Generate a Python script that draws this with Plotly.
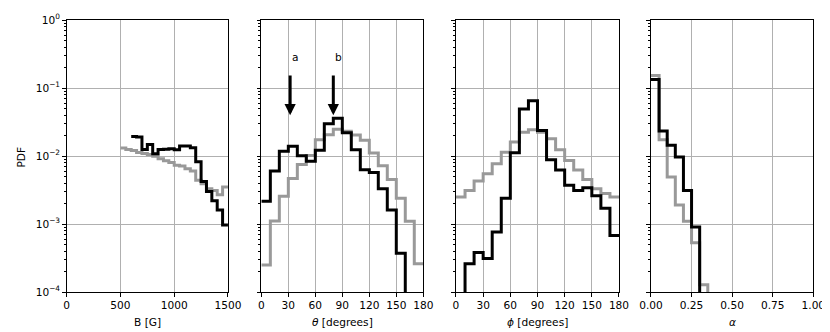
import plotly.graph_objects as go

# --------------------------------------------------
# DATOS
# --------------------------------------------------
b_edges_gray = list(range(500, 1501, 50))
b_edges_black = list(range(600, 1501, 50))
b_black = [0.0194, 0.0190, 0.0125, 0.0147, 0.0108, 0.0125, 0.0126, 0.0128, 0.0124,
           0.0140, 0.0140, 0.0132, 0.0082, 0.0042, 0.0030, 0.0022, 0.0016, 0.00097]
b_gray = [0.0131, 0.0125, 0.0120, 0.0113, 0.0109, 0.0105, 0.0099, 0.0091, 0.0085, 0.0080,
          0.0073, 0.0071, 0.0065, 0.0060, 0.0044, 0.0039, 0.0033, 0.0031, 0.0027, 0.0035]

ang_edges = list(range(0, 181, 10))
theta_black = [0.00216, 0.0060, 0.0117, 0.0139, 0.0101, 0.0084, 0.0121, 0.0299, 0.0358,
               0.0220, 0.0124, 0.0063, 0.0057, 0.0033, 0.0016, 0.00037, 1e-5, 1e-5]
theta_gray = [0.00025, 0.00111, 0.00255, 0.00465, 0.0075, 0.0102, 0.0174, 0.0206, 0.0247,
              0.0231, 0.0204, 0.0170, 0.0111, 0.0072, 0.0045, 0.0024, 0.0011, 0.00026]

phi_black = [1e-5, 0.00026, 0.00038, 0.00031, 0.00076, 0.0024, 0.0112, 0.049, 0.065,
             0.0238, 0.0088, 0.0062, 0.0037, 0.0031, 0.0034, 0.0026, 0.0017, 0.00068]
phi_gray = [0.0025, 0.0031, 0.0043, 0.0055, 0.0077, 0.0114, 0.0160, 0.0224, 0.0243,
            0.0224, 0.0180, 0.0124, 0.0086, 0.0062, 0.0045, 0.0033, 0.0028, 0.0025]

alpha_edges = [0.0, 0.05, 0.10, 0.15, 0.20, 0.25, 0.30, 0.35, 0.40]
alpha_black = [0.133, 0.0233, 0.0144, 0.0097, 0.0031, 0.0009, 1e-5, 1e-5]
alpha_gray = [0.153, 0.0174, 0.0049, 0.0019, 0.0011, 0.00053, 0.000128, 1e-5]

x_titles = ["B [G]", "<i>θ</i> [degrees]", "<i>ϕ</i> [degrees]", "<i>α</i>"]
x_ranges = [[0, 1500], [0, 180], [0, 180], [0, 1]]
x_ticks = [[0, 500, 1000, 1500],
           [0, 30, 60, 90, 120, 150, 180],
           [0, 30, 60, 90, 120, 150, 180],
           [0, 0.25, 0.5, 0.75, 1.0]]
x_ticktext = [["0", "500", "1000", "1500"],
              ["0", "30", "60", "90", "120", "150", "180"],
              ["0", "30", "60", "90", "120", "150", "180"],
              ["0.00", "0.25", "0.50", "0.75", "1.00"]]
y_ticks = [1e-4, 1e-3, 1e-2, 1e-1, 1]
y_ticktext = ["10<sup>−4</sup>", "10<sup>−3</sup>", "10<sup>−2</sup>", "10<sup>−1</sup>", "10<sup>0</sup>"]

BLACK = "#000000"
GRAY = "#999999"
FONT = "DejaVu Sans"

# la página tiene 8 px de margen: la figura es 822x324
W, H = 822, 324
domains = [[0.0714, 0.2676], [0.3082, 0.5052], [0.5450, 0.7433], [0.7822, 0.9797]]
minor_vals = [m * 10.0 ** e for e in range(-4, 0) for m in range(2, 10)]


def step(edges, vals):
    return edges, vals + [vals[-1]]


fig = go.Figure()

series = [
    (1, b_edges_gray, b_gray, GRAY),
    (1, b_edges_black, b_black, BLACK),
    (2, ang_edges, theta_gray, GRAY),
    (2, ang_edges, theta_black, BLACK),
    (3, ang_edges, phi_gray, GRAY),
    (3, ang_edges, phi_black, BLACK),
    (4, alpha_edges, alpha_gray, GRAY),
    (4, alpha_edges, alpha_black, BLACK),
]
for i, edges, vals, color in series:
    x, y = step(edges, vals)
    sfx = "" if i == 1 else str(i)
    fig.add_trace(go.Scatter(
        x=x, y=y, mode="lines", line=dict(color=color, width=3, shape="hv"),
        xaxis="x" + sfx, yaxis="y" + sfx, showlegend=False, hoverinfo="skip",
    ))

layout = dict(
    width=W, height=H,
    template="none",
    margin=dict(l=0, r=0, t=12, b=40),
    paper_bgcolor="white", plot_bgcolor="white",
    font=dict(family=FONT, size=10.6, color="black"),
    showlegend=False,
)
for i in range(4):
    sfx = "" if i == 0 else str(i + 1)
    layout["xaxis" + sfx] = dict(
        domain=domains[i], range=x_ranges[i], anchor="y" + sfx,
        tickvals=x_ticks[i], ticktext=x_ticktext[i],
        ticks="outside", ticklen=3.5, tickwidth=1, tickcolor="black",
        showline=True, mirror=True, linecolor="black", linewidth=1,
        showgrid=True, gridcolor="#b0b0b0", gridwidth=0.8,
        zeroline=False, automargin=False, fixedrange=True,
    )
    layout["yaxis" + sfx] = dict(
        type="log", range=[-4, 0], anchor="x" + sfx,
        tickvals=y_ticks, ticktext=y_ticktext, showticklabels=(i == 0),
        ticks="outside", ticklen=3.5, tickwidth=1, tickcolor="black",
        minor=dict(tickvals=minor_vals, ticks="outside", ticklen=2,
                   tickwidth=0.8, tickcolor="black", showgrid=False),
        showline=True, mirror=True, linecolor="black", linewidth=1,
        showgrid=True, gridcolor="#b0b0b0", gridwidth=0.8,
        zeroline=False, automargin=False, fixedrange=True,
    )
fig.update_layout(**layout)

# títulos de ejes
for i, t in enumerate(x_titles):
    fig.add_annotation(
        text=t, xref="paper", yref="paper",
        x=(domains[i][0] + domains[i][1]) / 2, y=-0.110,
        xanchor="center", yanchor="middle", showarrow=False,
        font=dict(size=10.6),
    )
fig.add_annotation(
    text="PDF", xref="paper", yref="paper", x=0.0155, y=0.497,
    textangle=-90, xanchor="center", yanchor="middle", showarrow=False,
)

# flechas a y b
for lab, xv in [("a", 32), ("b", 80)]:
    fig.add_annotation(
        x=xv, y=-1.40, ax=xv, ay=-0.795, xref="x2", yref="y2",
        axref="x2", ayref="y2", text="", showarrow=True,
        arrowhead=2, arrowsize=0.75, arrowwidth=3, arrowcolor=BLACK, standoff=0,
    )
    fig.add_annotation(
        x=xv, y=-0.55, xref="x2", yref="y2", text=lab, showarrow=False,
        xanchor="left", yanchor="middle", font=dict(size=10.6),
    )

fig.write_html("out.html")
